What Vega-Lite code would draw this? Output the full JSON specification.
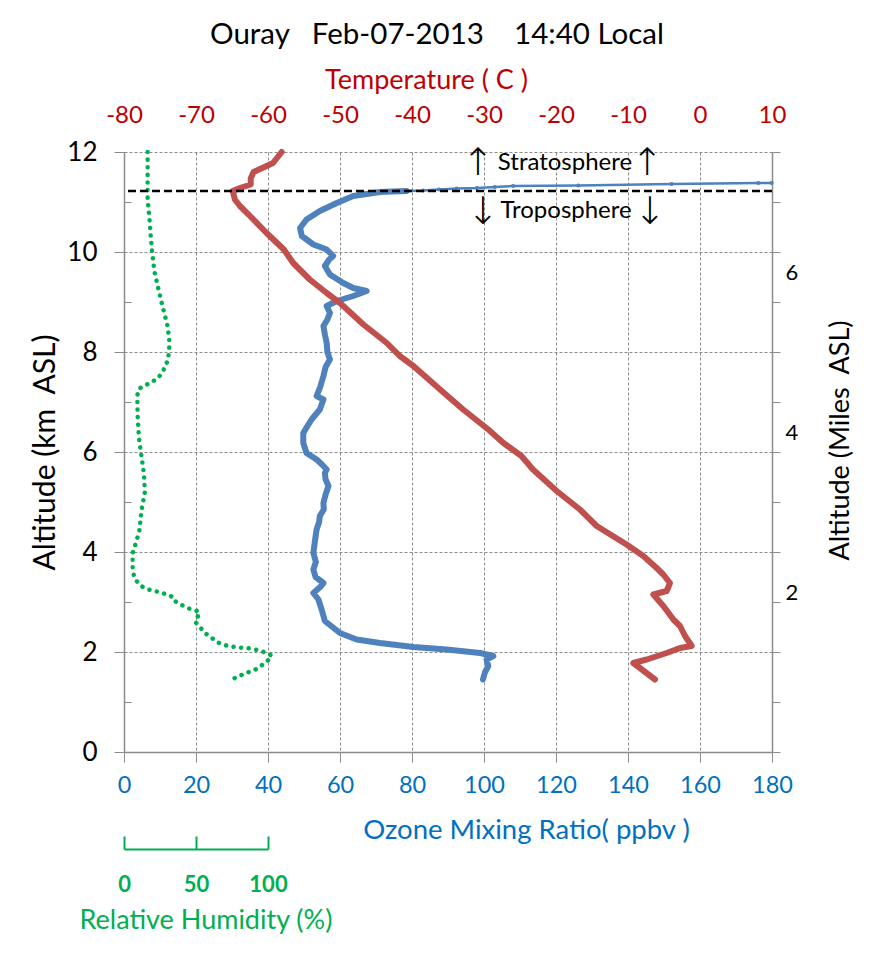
{
  "$schema": "https://vega.github.io/schema/vega-lite/v6.json",
  "autosize": {"type": "none"},
  "width": 648,
  "height": 600,
  "padding": {"left": 124, "top": 152, "right": 97, "bottom": 227},
  "background": "white",
  "config": {"font": "Lato", "view": {"stroke": null}, "axis": {"labelFont": "Lato", "titleFont": "Lato", "titleFontWeight": "normal", "labelFlush": false, "labelOverlap": false}},
  "title": {"text": "Ouray\u00a0\u00a0\u00a0Feb-07-2013\u00a0\u00a0\u00a0\u00a014:40\u00a0Local", "font": "Lato", "fontSize": 29.5, "fontWeight": "normal", "color": "black", "anchor": "middle", "frame": "group", "dx": -11, "offset": 16},
  "datasets": {
    "ozone": [
      {"alt": 1.45, "ozone": 99.7}, {"alt": 1.6, "ozone": 100.3}, {"alt": 1.72, "ozone": 101.2}, {"alt": 1.85, "ozone": 100.7}, {"alt": 1.92, "ozone": 102.6}, {"alt": 1.98, "ozone": 98.9}, {"alt": 2.05, "ozone": 89.6}, {"alt": 2.1, "ozone": 80.4}, {"alt": 2.18, "ozone": 71.1}, {"alt": 2.25, "ozone": 64.6}, {"alt": 2.38, "ozone": 60.0}, {"alt": 2.62, "ozone": 55.8}, {"alt": 2.85, "ozone": 54.9}, {"alt": 3.05, "ozone": 54.0}, {"alt": 3.18, "ozone": 52.6}, {"alt": 3.3, "ozone": 54.5}, {"alt": 3.38, "ozone": 55.4}, {"alt": 3.5, "ozone": 53.2}, {"alt": 3.65, "ozone": 52.6}, {"alt": 3.8, "ozone": 53.3}, {"alt": 3.98, "ozone": 52.6}, {"alt": 4.2, "ozone": 53.0}, {"alt": 4.45, "ozone": 53.5}, {"alt": 4.6, "ozone": 54.2}, {"alt": 4.72, "ozone": 54.4}, {"alt": 4.85, "ozone": 55.5}, {"alt": 4.98, "ozone": 55.4}, {"alt": 5.15, "ozone": 56.0}, {"alt": 5.32, "ozone": 56.8}, {"alt": 5.45, "ozone": 56.0}, {"alt": 5.58, "ozone": 55.8}, {"alt": 5.65, "ozone": 56.3}, {"alt": 5.75, "ozone": 55.0}, {"alt": 5.85, "ozone": 53.5}, {"alt": 5.98, "ozone": 50.7}, {"alt": 6.18, "ozone": 49.8}, {"alt": 6.38, "ozone": 49.8}, {"alt": 6.5, "ozone": 50.8}, {"alt": 6.65, "ozone": 52.1}, {"alt": 6.85, "ozone": 54.4}, {"alt": 7.05, "ozone": 55.4}, {"alt": 7.12, "ozone": 53.5}, {"alt": 7.3, "ozone": 54.5}, {"alt": 7.52, "ozone": 55.4}, {"alt": 7.7, "ozone": 56.0}, {"alt": 7.85, "ozone": 57.2}, {"alt": 8.0, "ozone": 56.5}, {"alt": 8.18, "ozone": 56.3}, {"alt": 8.35, "ozone": 55.8}, {"alt": 8.52, "ozone": 55.4}, {"alt": 8.65, "ozone": 56.5}, {"alt": 8.78, "ozone": 57.2}, {"alt": 8.92, "ozone": 56.3}, {"alt": 9.02, "ozone": 59.1}, {"alt": 9.12, "ozone": 63.7}, {"alt": 9.22, "ozone": 67.4}, {"alt": 9.28, "ozone": 63.7}, {"alt": 9.38, "ozone": 60.9}, {"alt": 9.55, "ozone": 57.2}, {"alt": 9.72, "ozone": 55.8}, {"alt": 9.85, "ozone": 57.0}, {"alt": 9.92, "ozone": 58.1}, {"alt": 10.05, "ozone": 56.3}, {"alt": 10.15, "ozone": 52.6}, {"alt": 10.32, "ozone": 49.4}, {"alt": 10.48, "ozone": 48.9}, {"alt": 10.65, "ozone": 50.7}, {"alt": 10.82, "ozone": 54.4}, {"alt": 10.98, "ozone": 59.1}, {"alt": 11.12, "ozone": 63.7}, {"alt": 11.2, "ozone": 71.1}, {"alt": 11.22, "ozone": 78.5}
    ],
    "ozone_upper": [
      {"alt": 11.22, "ozone": 78.5}, {"alt": 11.23, "ozone": 83.1}, {"alt": 11.25, "ozone": 87.5}, {"alt": 11.27, "ozone": 92.4}, {"alt": 11.28, "ozone": 98.0}, {"alt": 11.3, "ozone": 103.0}, {"alt": 11.32, "ozone": 108.1}, {"alt": 11.33, "ozone": 126.2}, {"alt": 11.36, "ozone": 152.1}, {"alt": 11.38, "ozone": 176.2}, {"alt": 11.38, "ozone": 179.9}
    ],
    "temp": [
      {"alt": 1.45, "temp": -6.25}, {"alt": 1.78, "temp": -9.26}, {"alt": 1.85, "temp": -7.4}, {"alt": 1.98, "temp": -4.63}, {"alt": 2.08, "temp": -2.78}, {"alt": 2.12, "temp": -1.15}, {"alt": 2.32, "temp": -2.08}, {"alt": 2.52, "temp": -2.78}, {"alt": 2.65, "temp": -3.7}, {"alt": 2.92, "temp": -5.09}, {"alt": 3.15, "temp": -6.48}, {"alt": 3.22, "temp": -4.63}, {"alt": 3.38, "temp": -4.17}, {"alt": 3.55, "temp": -5.1}, {"alt": 3.68, "temp": -6.02}, {"alt": 3.92, "temp": -7.87}, {"alt": 4.15, "temp": -10.2}, {"alt": 4.52, "temp": -14.35}, {"alt": 4.85, "temp": -16.67}, {"alt": 5.22, "temp": -19.9}, {"alt": 5.65, "temp": -23.2}, {"alt": 5.92, "temp": -24.8}, {"alt": 6.18, "temp": -27.3}, {"alt": 6.45, "temp": -29.4}, {"alt": 6.85, "temp": -32.9}, {"alt": 7.25, "temp": -36.1}, {"alt": 7.72, "temp": -39.8}, {"alt": 7.92, "temp": -41.7}, {"alt": 8.18, "temp": -43.5}, {"alt": 8.55, "temp": -46.75}, {"alt": 8.98, "temp": -50.0}, {"alt": 9.18, "temp": -51.85}, {"alt": 9.45, "temp": -54.2}, {"alt": 9.78, "temp": -56.5}, {"alt": 10.05, "temp": -57.8}, {"alt": 10.38, "temp": -60.2}, {"alt": 10.72, "temp": -62.5}, {"alt": 10.92, "temp": -63.9}, {"alt": 11.05, "temp": -64.6}, {"alt": 11.22, "temp": -64.9}, {"alt": 11.28, "temp": -63.9}, {"alt": 11.35, "temp": -62.4}, {"alt": 11.47, "temp": -62.4}, {"alt": 11.6, "temp": -62.0}, {"alt": 11.68, "temp": -60.8}, {"alt": 11.78, "temp": -59.3}, {"alt": 12.0, "temp": -58.1}
    ],
    "rh": [
      {"alt": 12.0, "rh": 16.4}, {"alt": 11.5, "rh": 16.4}, {"alt": 11.06, "rh": 16.4}, {"alt": 10.7, "rh": 17.6}, {"alt": 10.34, "rh": 18.5}, {"alt": 9.98, "rh": 19.6}, {"alt": 9.63, "rh": 21.0}, {"alt": 9.27, "rh": 23.8}, {"alt": 8.91, "rh": 26.8}, {"alt": 8.55, "rh": 30.0}, {"alt": 8.27, "rh": 31.4}, {"alt": 8.05, "rh": 31.4}, {"alt": 7.84, "rh": 30.5}, {"alt": 7.63, "rh": 27.3}, {"alt": 7.48, "rh": 23.8}, {"alt": 7.38, "rh": 18.0}, {"alt": 7.27, "rh": 10.6}, {"alt": 7.13, "rh": 9.2}, {"alt": 6.7, "rh": 9.5}, {"alt": 6.27, "rh": 10.4}, {"alt": 5.98, "rh": 11.8}, {"alt": 5.55, "rh": 13.9}, {"alt": 5.2, "rh": 14.5}, {"alt": 4.84, "rh": 12.2}, {"alt": 4.41, "rh": 10.6}, {"alt": 4.12, "rh": 7.6}, {"alt": 3.98, "rh": 6.0}, {"alt": 3.69, "rh": 6.0}, {"alt": 3.5, "rh": 7.0}, {"alt": 3.38, "rh": 9.7}, {"alt": 3.3, "rh": 13.0}, {"alt": 3.25, "rh": 17.0}, {"alt": 3.2, "rh": 24.0}, {"alt": 3.15, "rh": 30.0}, {"alt": 3.1, "rh": 33.7}, {"alt": 3.04, "rh": 34.2}, {"alt": 2.96, "rh": 38.8}, {"alt": 2.88, "rh": 44.0}, {"alt": 2.82, "rh": 51.0}, {"alt": 2.76, "rh": 52.5}, {"alt": 2.68, "rh": 50.5}, {"alt": 2.6, "rh": 49.5}, {"alt": 2.5, "rh": 52.7}, {"alt": 2.38, "rh": 56.2}, {"alt": 2.26, "rh": 62.0}, {"alt": 2.18, "rh": 66.0}, {"alt": 2.12, "rh": 72.0}, {"alt": 2.09, "rh": 80.0}, {"alt": 2.07, "rh": 88.0}, {"alt": 2.03, "rh": 94.0}, {"alt": 1.98, "rh": 99.0}, {"alt": 1.93, "rh": 102.5}, {"alt": 1.86, "rh": 101.0}, {"alt": 1.78, "rh": 98.0}, {"alt": 1.66, "rh": 92.0}, {"alt": 1.58, "rh": 85.0}, {"alt": 1.52, "rh": 80.0}, {"alt": 1.45, "rh": 74.8}
    ],
    "tropopause": [{"alt": 11.22}],
    "notes": [
      {"label": "Stratosphere", "ozone": 122.5, "alt": 11.79},
      {"label": "Troposphere", "ozone": 122.8, "alt": 10.82}
    ],
    "arrows": [
      {"label": "↑", "ozone": 98.3, "alt": 11.76},
      {"label": "↑", "ozone": 145.3, "alt": 11.76},
      {"label": "↓", "ozone": 99.7, "alt": 10.79},
      {"label": "↓", "ozone": 146.1, "alt": 10.79}
    ]
  },
  "layer": [
    {
      "data": {"name": "ozone"},
      "mark": {"type": "line", "color": "#4F81BD", "strokeWidth": 6, "strokeJoin": "round", "strokeCap": "round"},
      "encoding": {
        "x": {"field": "ozone", "type": "quantitative", "scale": {"domain": [0, 180], "nice": false, "zero": false},
          "axis": {"orient": "bottom", "values": [0, 20, 40, 60, 80, 100, 120, 140, 160, 180], "grid": true, "gridColor": "#8c8c8c", "gridDash": [3, 2], "gridWidth": 1, "domainColor": "#8c8c8c", "domainWidth": 1.5, "tickColor": "#8c8c8c", "tickSize": 10, "tickWidth": 1, "labelColor": "#0070C0", "labelFontSize": 23.5, "labelPadding": 11, "title": "Ozone Mixing Ratio( ppbv )", "titleColor": "#0070C0", "titleFontSize": 27.5, "titleX": 402, "titleY": 78, "titleBaseline": "middle", "titleAlign": "center"}},
        "y": {"field": "alt", "type": "quantitative", "scale": {"domain": [0, 12], "nice": false, "zero": false},
          "axis": {"orient": "left", "values": [0, 2, 4, 6, 8, 10, 12], "grid": true, "gridColor": "#8c8c8c", "gridDash": [3, 2], "gridWidth": 1, "domainColor": "#8c8c8c", "domainWidth": 1.5, "tickColor": "#8c8c8c", "tickSize": 10, "labelColor": "black", "labelFontSize": 26, "labelPadding": 17, "title": "Altitude (km\u00a0\u00a0ASL)", "titleColor": "black", "titleFontSize": 30, "titleX": -79, "titleY": 300, "titleAngle": -90, "titleBaseline": "middle", "titleAlign": "center"}},
        "order": {"value": null}
      }
    },
    {
      "data": {"name": "ozone_upper"},
      "mark": {"type": "line", "color": "#4F81BD", "strokeWidth": 2.5},
      "encoding": {
        "x": {"field": "ozone", "type": "quantitative", "scale": {"domain": [0, 180], "nice": false, "zero": false}, "axis": null},
        "y": {"field": "alt", "type": "quantitative", "axis": {"orient": "left", "values": [1, 3, 5, 7, 9, 11], "tickSize": -7, "tickColor": "#8c8c8c", "labels": false, "domain": false, "grid": false, "title": null}},
        "order": {"value": null}
      }
    },
    {
      "data": {"name": "ozone_upper"},
      "mark": {"type": "point", "filled": true, "color": "#4F81BD", "size": 18, "opacity": 1},
      "encoding": {
        "x": {"field": "ozone", "type": "quantitative", "scale": {"domain": [0, 180], "nice": false, "zero": false}, "axis": null},
        "y": {"field": "alt", "type": "quantitative", "axis": null}
      }
    },
    {
      "data": {"name": "temp"},
      "mark": {"type": "line", "color": "#C0504D", "strokeWidth": 6, "strokeJoin": "round", "strokeCap": "round"},
      "encoding": {
        "x": {"field": "temp", "type": "quantitative", "scale": {"domain": [-80, 10], "nice": false, "zero": false},
          "axis": {"orient": "top", "values": [-80, -70, -60, -50, -40, -30, -20, -10, 0, 10], "labelExpr": "'' + datum.value", "grid": false, "domain": false, "ticks": false, "labelColor": "#C00000", "labelFontSize": 24, "labelPadding": 25, "title": "Temperature ( C )", "titleColor": "#C00000", "titleFontSize": 27, "titleX": 302, "titleY": -72, "titleBaseline": "middle", "titleAlign": "center"}},
        "y": {"field": "alt", "type": "quantitative",
          "axis": {"orient": "right", "values": [3.2, 6.4, 9.6], "labelExpr": "format(datum.value / 1.6, 'd')", "ticks": false, "domain": false, "grid": false, "labelColor": "black", "labelFontSize": 22, "labelPadding": 13, "title": "Altitude (Miles\u00a0\u00a0ASL)", "titleColor": "black", "titleFontSize": 27, "titleX": 68, "titleY": 288, "titleAngle": -90, "titleBaseline": "middle", "titleAlign": "center"}},
        "order": {"value": null}
      }
    },
    {
      "data": {"name": "rh"},
      "mark": {"type": "line", "color": "#00B050", "strokeWidth": 4.5, "strokeDash": [0.1, 7.5], "strokeCap": "round"},
      "encoding": {
        "x": {"field": "rh", "type": "quantitative", "scale": {"domain": [0, 100], "range": [0, 144], "nice": false, "zero": false},
          "axis": {"orient": "bottom", "offset": 97, "values": [0, 50, 100], "grid": false, "domainColor": "#00B050", "domainWidth": 2, "tickColor": "#00B050", "tickWidth": 2, "tickSize": -13, "labelColor": "#00B050", "labelFontSize": 22, "labelFontWeight": "bold", "labelPadding": 38, "title": "Relative Humidity (%)", "titleColor": "#00B050", "titleFontSize": 27, "titleX": -45, "titleY": 71, "titleAlign": "left", "titleBaseline": "middle"}},
        "y": {"field": "alt", "type": "quantitative",
          "axis": {"orient": "right", "values": [0, 1, 2, 3, 4, 5, 6, 7, 8, 9, 10, 11, 12], "tickSize": 8, "tickColor": "#8c8c8c", "domainColor": "#8c8c8c", "domainWidth": 1.5, "labels": false, "grid": false, "title": null}},
        "order": {"value": null}
      }
    },
    {
      "data": {"name": "tropopause"},
      "mark": {"type": "rule", "color": "black", "strokeWidth": 2.5, "strokeDash": [8, 4]},
      "encoding": {
        "y": {"field": "alt", "type": "quantitative", "axis": null}
      }
    },
    {
      "data": {"name": "notes"},
      "mark": {"type": "text", "font": "Lato", "fontSize": 24, "color": "black", "align": "center", "baseline": "middle"},
      "encoding": {
        "x": {"field": "ozone", "type": "quantitative", "scale": {"domain": [0, 180], "nice": false, "zero": false}, "axis": null},
        "y": {"field": "alt", "type": "quantitative", "axis": null},
        "text": {"field": "label"}
      }
    },
    {
      "data": {"name": "arrows"},
      "mark": {"type": "text", "font": "DejaVu Sans", "fontSize": 38, "fontWeight": "lighter", "color": "black", "align": "center", "baseline": "middle"},
      "encoding": {
        "x": {"field": "ozone", "type": "quantitative", "scale": {"domain": [0, 180], "nice": false, "zero": false}, "axis": null},
        "y": {"field": "alt", "type": "quantitative", "axis": null},
        "text": {"field": "label"}
      }
    }
  ],
  "resolve": {"scale": {"x": "independent"}, "axis": {"x": "independent", "y": "independent"}}
}
